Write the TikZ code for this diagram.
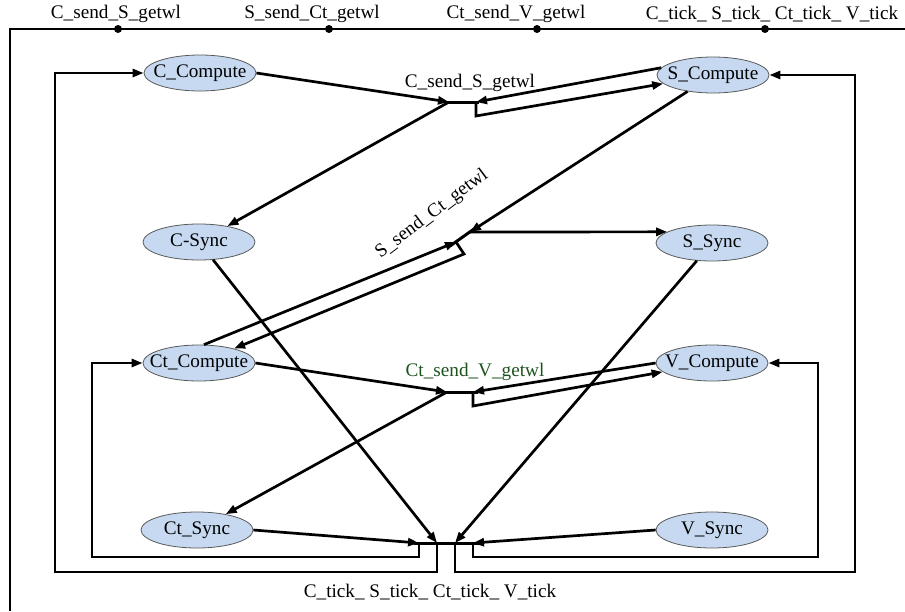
\documentclass[tikz,border=0pt]{standalone}
\usepackage{fontspec}
\setmainfont{Liberation Serif}
\usepackage{xcolor}
\usepackage{tikz}
\usetikzlibrary{arrows.meta,shapes.geometric,calc}

\definecolor{stateblue}{RGB}{198,217,241}
\definecolor{labelgreen}{RGB}{28,82,28}

\begin{document}
\begin{tikzpicture}[
    x=0.5pt,
    y=-0.5pt,
    font=\fontsize{9.6}{11}\selectfont,
    state/.style={
        ellipse,
        draw=black!65,
        thin,
        fill=stateblue,
        minimum width=56pt,
        minimum height=18pt,
        inner xsep=-5pt,
        inner ysep=0pt
    },
    arr/.style={-{Triangle[length=5.5pt,width=4pt]}, line width=1.35pt},
    wire/.style={line width=1.25pt},
    bar/.style={line width=1.5pt},
    dot/.style={circle, fill=black, inner sep=0pt, minimum size=4pt}
]
\useasboundingbox (0,0) rectangle (905,611);

% bus line on top
\draw[wire] (10,611) -- (10,29) -- (905,29);
\node[dot] (d1) at (118,29) {};
\node[dot] (d2) at (329,29) {};
\node[dot] (d3) at (537,29) {};
\node[dot] (d4) at (765,29) {};
\node (bus1) at (116,14) {C\_send\_S\_getwl};
\node (bus2) at (312,14) {S\_send\_Ct\_getwl};
\node (bus3) at (516,14) {Ct\_send\_V\_getwl};
\node (bus4) at (772,14) {C\_tick\_ S\_tick\_ Ct\_tick\_ V\_tick};

% STATE: left column
\node[state] (ccomp)  at (200,73)  {C\_Compute};
\node[state] (csync)  at (199,242) {C-Sync};
\node[state] (ctcomp) at (199,363) {Ct\_Compute};
\node[state] (ctsync) at (197,530) {Ct\_Sync};

% STATE: right column
\node[state] (scomp) at (713,75)  {S\_Compute};
\node[state] (ssync) at (712,243) {S\_Sync};
\node[state] (vcomp) at (712,363) {V\_Compute};
\node[state] (vsync) at (712,530) {V\_Sync};

% transition C_send_S_getwl
\coordinate (t1a) at (449,102);
\coordinate (t1b) at (476,102);
\draw[bar] (444,102) -- (479,102);
\node (lab1) at (470,83) {C\_send\_S\_getwl};
\draw[arr] (ccomp.east) -- (t1a);
\draw[arr] (scomp.172) -- (t1b);
\draw[arr] (t1a) -- (csync);
\draw[arr] (t1b) -- ++(0,14) -- (scomp);

% transition S_send_Ct_getwl
\coordinate (t2a) at (456,242);
\coordinate (t2b) at (470,232);
\draw[bar] (450,246) -- (474,229);
\node[rotate=37] (lab2) at (432,214) {S\_send\_Ct\_getwl};
\draw[arr] (ctcomp.75) -- (t2a);
\draw[arr] (scomp) -- (t2b);
\draw[arr] (t2b) -- (ssync.166);
\draw[arr] (t2a) -- ++(8,12) -- (ctcomp);

% transition Ct_send_V_getwl
\coordinate (t3a) at (447,392);
\coordinate (t3b) at (473,392);
\draw[bar] (441,392) -- (478,392);
\node[text=labelgreen] (lab3) at (475,372) {Ct\_send\_V\_getwl};
\draw[arr] (ctcomp.east) -- (t3a);
\draw[arr] (vcomp.west) -- (t3b);
\draw[arr] (t3a) -- (ctsync);
\draw[arr] (t3b) -- ++(0,14) -- (vcomp);

% transition C_tick_ S_tick_ Ct_tick_ V_tick
\coordinate (b1) at (419,543);
\coordinate (b2) at (437,543);
\coordinate (b3) at (455,543);
\coordinate (b4) at (473,543);
\draw[bar] (414,543) -- (480,543);
\node (lab4) at (430,592) {C\_tick\_ S\_tick\_ Ct\_tick\_ V\_tick};
\draw[arr] (ctsync.east) -- (b1);
\draw[arr] (csync) -- (b2);
\draw[arr] (ssync) -- (b3);
\draw[arr] (vsync.west) -- (b4);

% loops back to the compute states
\draw[arr] (b1) |- (92,557) |- (ctcomp.west);
\draw[arr] (b2) |- (55,572) |- (ccomp.west);
\draw[arr] (b3) |- (855,572) |- (scomp.east);
\draw[arr] (b4) |- (818,557) |- (vcomp.east);

\end{tikzpicture}
\end{document}
